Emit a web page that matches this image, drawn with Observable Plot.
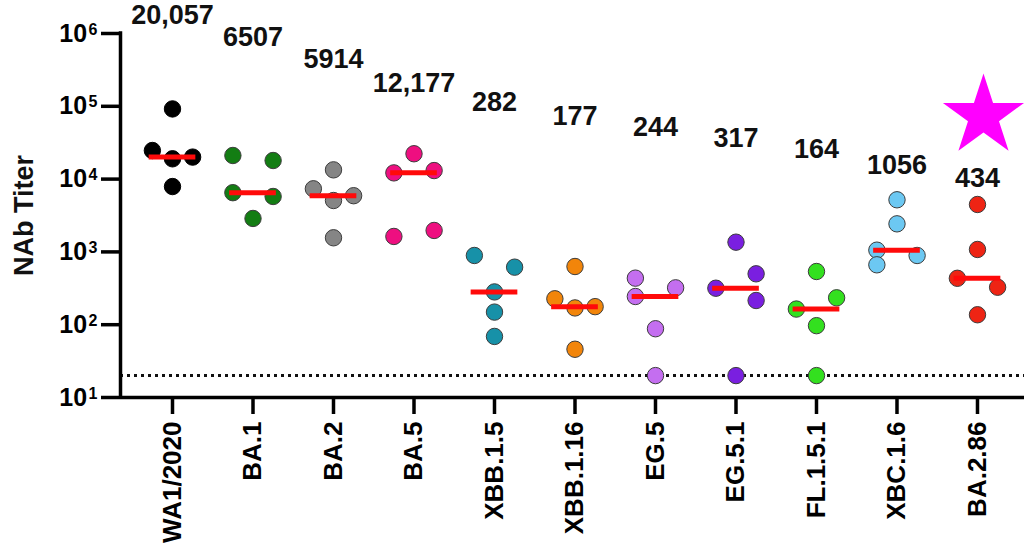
<!DOCTYPE html>
<html>
<head>
<meta charset="utf-8">
<script src="https://cdn.jsdelivr.net/npm/d3@7"></script>
<script src="https://cdn.jsdelivr.net/npm/@observablehq/plot@0.6"></script>
<style>
  html, body { margin: 0; padding: 0; background: #fff; }
  #chart { width: 1024px; height: 553px; overflow: hidden; }
</style>
</head>
<body>
<div id="chart"></div>
<script>
// ---- data ----
const variants = ["WA1/2020","BA.1","BA.2","BA.5","XBB.1.5","XBB.1.16","EG.5","EG.5.1","FL.1.5.1","XBC.1.6","BA.2.86"];
const colors   = ["#000000","#137d13","#858585","#ee0f80","#1791a8","#f2850a","#c46ef0","#7a1fe0","#33e01f","#6cc8f2","#ee2414"];
// NAb titers of each sample, per variant
const titers = [
  [92000, 24700, 20057, 19000, 7900],
  [21100, 18000, 6507, 5770, 2880],
  [13400, 7360, 5914, 5080, 1563],
  [22300, 13100, 12177, 1970, 1630],
  [893, 617, 282, 149, 69],
  [630, 227, 177, 170, 46],
  [436, 321, 244, 88, 20],
  [1360, 500, 317, 215, 20],
  [538, 234, 164, 97, 20],
  [5200, 2430, 1056, 893, 665],
  [4480, 1080, 434, 327, 137]
];
// scatter column of each sample (-1 left, 0 centre, 1 right)
const slots = [
  [0,-1,1,0,0],
  [-1,1,-1,1,0],
  [0,-1,1,0,0],
  [0,1,-1,1,-1],
  [-1,1,0,0,0],
  [0,-1,1,0,0],
  [-1,1,-1,0,0],
  [0,1,-1,1,0],
  [0,1,-1,0,0],
  [0,0,-1,1,-1],
  [0,0,-1,1,0]
];
// titer level at which each median label sits
const labelAt = [1370000, 684000, 341000, 155000, 87500, 54500, 38500, 27200, 19200, 11900, 7670];
const yTicks = [10, 100, 1000, 10000, 100000, 1000000];
const detectionLimit = 20;
const starVariant = "BA.2.86";
const starLevel = 73300;

// ---- derived tables ----
const points = [];
titers.forEach((vals, i) => vals.forEach((v, j) => points.push({i, v, s: slots[i][j], c: colors[i]})));
const medians = titers.map((vals, i) => ({i, m: d3.median(vals), at: labelAt[i]}));
const fmt = v => v >= 10000 ? d3.format(",")(v) : String(v);
const xMin = -0.646, xMax = 10.584;
const slotW = 0.25, halfLine = 0.29;

const plot = Plot.plot({
  width: 1024,
  height: 553,
  marginTop: 33,
  marginBottom: 156,
  marginLeft: 120,
  marginRight: 0,
  style: {fontFamily: "'Liberation Sans', Arial, sans-serif", fontWeight: "bold", background: "#fff", overflow: "visible"},
  x: {type: "linear", domain: [xMin, xMax]},
  y: {type: "log", domain: [10, 1e6]},
  marks: [
    Plot.ruleY([detectionLimit], {stroke: "#111", strokeWidth: 3, strokeDasharray: "3,4"}),
    Plot.dot(points, {x: d => d.i + d.s * slotW, y: "v", r: 8.2, fill: "c", stroke: d => d.i === 0 ? "#000" : "#3c3c3c", strokeWidth: 1}),
    Plot.ruleY(medians, {y: "m", x1: d => d.i - halfLine, x2: d => d.i + halfLine, stroke: "#ff0a0a", strokeWidth: 5}),
    Plot.ruleY([10], {stroke: "#000", strokeWidth: 3.5}),
    Plot.ruleX([xMin], {y1: 10, y2: 1e6, stroke: "#000", strokeWidth: 3.5, strokeLinecap: "square"}),
    Plot.axisY({ticks: yTicks, tickFormat: d => "10^" + Math.round(Math.log10(d)), tickSize: 19, tickPadding: 4, strokeWidth: 3.5, fontSize: 25, fontWeight: "bold", label: null}),
    Plot.axisX({ticks: d3.range(variants.length), tickFormat: i => variants[i], tickRotate: -90, tickSize: 17, tickPadding: 7, strokeWidth: 3.5, fontSize: 26, fontWeight: "bold", label: null}),
    Plot.text(medians, {x: "i", y: "at", text: d => fmt(d.m), fontSize: 27, fontWeight: "bold", textAnchor: "middle", lineAnchor: "bottom", fill: "#111"}),
    Plot.text(["NAb Titer"], {frameAnchor: "left", dx: -96, rotate: -90, textAnchor: "middle", lineAnchor: "middle", fontSize: 27, fontWeight: "bold", fill: "#111"}),
    Plot.dot([starVariant], {x: d => variants.indexOf(d), y: () => starLevel, symbol: "star", r: 25.5, fill: "#ff00ff", dx: 6})
  ]
});

// superscript exponents on the y tick labels
plot.querySelectorAll('[aria-label="y-axis tick label"] text').forEach(t => {
  const m = /^10\^(\d+)$/.exec(t.textContent);
  if (!m) return;
  t.textContent = "10";
  const sup = document.createElementNS("http://www.w3.org/2000/svg", "tspan");
  sup.setAttribute("dy", "-7");
  sup.setAttribute("dx", "1.5");
  sup.setAttribute("font-size", "16");
  sup.textContent = m[1];
  t.appendChild(sup);
});

document.getElementById("chart").appendChild(plot);
</script>
</body>
</html>
